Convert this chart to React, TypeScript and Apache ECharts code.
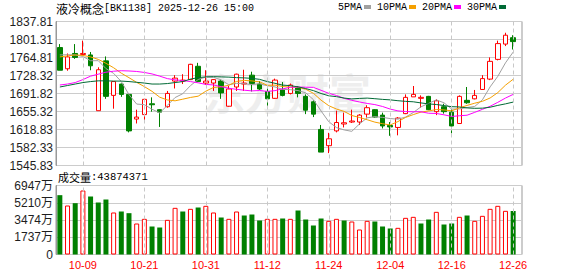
import React, { useEffect, useRef } from 'react';
import * as echarts from 'echarts';

const titleName = '液冷概念';
const titleCode = '[BK1138]';
const titleTime = '2025-12-26 15:00';
const volTitle = '成交量';
const lastVolume = 43874371;

const dates = [
  '09-26', '09-29', '09-30', '10-09', '10-10', '10-13', '10-14', '10-15', '10-16', '10-17',
  '10-20', '10-21', '10-22', '10-23', '10-24', '10-27', '10-28', '10-29', '10-30', '10-31',
  '11-03', '11-04', '11-05', '11-06', '11-07', '11-10', '11-11', '11-12', '11-13', '11-14',
  '11-17', '11-18', '11-19', '11-20', '11-21', '11-24', '11-25', '11-26', '11-27', '11-28',
  '12-01', '12-02', '12-03', '12-04', '12-05', '12-08', '12-09', '12-10', '12-11', '12-12',
  '12-15', '12-16', '12-17', '12-18', '12-19', '12-22', '12-23', '12-24', '12-25', '12-26',
];

const opens = [
  1785, 1742, 1773, 1771, 1770, 1657, 1758, 1688, 1711, 1690,
  1640, 1649, 1671, 1659, 1665, 1717, 1717, 1720, 1747, 1713,
  1713, 1717, 1666, 1705, 1711, 1729, 1711, 1696, 1682, 1699,
  1692, 1703, 1686, 1675, 1619, 1586, 1616, 1630, 1634, 1634,
  1650, 1659, 1648, 1627, 1623, 1651, 1685, 1682, 1686, 1655,
  1665, 1654, 1631, 1678, 1681, 1700, 1721, 1761, 1792, 1805,
];
const closes = [
  1739, 1766, 1765, 1773, 1748, 1740, 1686, 1716, 1690, 1616,
  1644, 1680, 1669, 1654, 1692, 1723, 1719, 1751, 1716, 1717,
  1720, 1693, 1701, 1731, 1713, 1712, 1701, 1681, 1719, 1688,
  1709, 1692, 1658, 1650, 1573, 1600, 1633, 1632.5, 1636, 1648,
  1663, 1644, 1626, 1624, 1642, 1684, 1690, 1684, 1659, 1677,
  1655, 1626, 1686, 1673, 1688, 1722, 1757, 1793, 1810, 1797,
];
const lows = [
  1739, 1738, 1762, 1769, 1739, 1657, 1681, 1661, 1685, 1613,
  1631, 1638, 1655, 1624, 1663, 1702, 1711, 1719, 1715, 1709,
  1697, 1681, 1665, 1697, 1697, 1696, 1699, 1665, 1681, 1686,
  1690, 1684, 1650, 1644, 1573, 1571, 1613, 1623, 1632, 1628,
  1643, 1643, 1621, 1606, 1607, 1650, 1685, 1663, 1658, 1648,
  1651, 1611, 1631, 1671, 1680, 1699, 1719, 1759, 1788, 1781,
];
const highs = [
  1792, 1773, 1792, 1799, 1776, 1745, 1767, 1716, 1712, 1691,
  1659, 1681, 1684, 1660, 1697, 1729, 1731, 1752, 1754, 1739,
  1721, 1720, 1707, 1732, 1740, 1736, 1717, 1702, 1722, 1715,
  1712, 1707, 1690, 1678, 1628, 1612, 1657, 1653, 1659, 1650,
  1668, 1660, 1653, 1634, 1644, 1690, 1707, 1688, 1687, 1680,
  1671, 1663, 1688, 1705, 1699, 1729, 1765, 1799, 1815, 1810,
];

const ma5 = [
  1770, 1770.5, 1770, 1767, 1758.2, 1758.4, 1742.4, 1732.6, 1716.0, 1689.6,
  1670.4, 1669.2, 1659.8, 1652.6, 1667.8, 1683.6, 1691.4, 1707.8, 1720.2, 1725.2,
  1724.6, 1719.4, 1709.4, 1712.4, 1711.6, 1710.0, 1711.6, 1707.6, 1705.2, 1700.2,
  1699.6, 1697.8, 1693.2, 1679.4, 1656.4, 1634.6, 1622.8, 1618.0, 1615.1, 1630.1,
  1642.5, 1644.9, 1643.4, 1641.0, 1639.8, 1644.0, 1653.2, 1664.8, 1671.8, 1678.8,
  1673.0, 1660.2, 1660.6, 1663.4, 1665.6, 1679.0, 1705.2, 1726.6, 1754.0, 1775.8,
];
const ma10 = [
  1766, 1768, 1770, 1769, 1766, 1761, 1753, 1744, 1733, 1723.9,
  1714.4, 1705.8, 1696.2, 1684.3, 1678.7, 1677.0, 1680.3, 1683.8, 1686.4, 1696.5,
  1704.1, 1705.4, 1708.6, 1716.3, 1718.4, 1717.3, 1715.5, 1708.5, 1708.8, 1705.9,
  1704.8, 1704.7, 1700.4, 1692.3, 1678.3, 1667.1, 1660.3, 1655.5, 1647.2, 1643.2,
  1638.6, 1633.8, 1630.6, 1628.0, 1634.9, 1643.3, 1649.0, 1654.1, 1656.4, 1659.3,
  1658.5, 1656.7, 1662.7, 1667.6, 1672.2, 1676.0, 1682.7, 1693.6, 1708.7, 1720.7,
];
const ma20 = [
  1709, 1711, 1714, 1720, 1727, 1731, 1735, 1737, 1738, 1737.5,
  1736.5, 1734.5, 1731.5, 1727, 1722, 1719.5, 1718, 1716, 1713.5, 1710.2,
  1709.2, 1705.6, 1702.4, 1700.3, 1698.5, 1697.1, 1697.9, 1696.1, 1697.6, 1701.2,
  1704.4, 1705.0, 1704.5, 1704.3, 1698.3, 1692.2, 1687.8, 1682.0, 1678.0, 1674.6,
  1671.7, 1669.3, 1665.5, 1660.2, 1656.6, 1655.2, 1654.7, 1654.8, 1651.8, 1651.3,
  1648.6, 1645.3, 1646.7, 1647.8, 1653.6, 1659.7, 1665.9, 1673.9, 1682.6, 1690.0,
];
const ma30 = [
  1705, 1708, 1711, 1714, 1716, 1717.5, 1717.5, 1717, 1717, 1716,
  1714.5, 1713, 1711, 1711, 1712, 1714, 1716, 1721, 1724, 1725.5,
  1726, 1725.5, 1725, 1724, 1723.5, 1722.5, 1720.5, 1716, 1712.5, 1708.8,
  1707.8, 1705.3, 1701.8, 1697.7, 1691.8, 1687.2, 1685.4, 1682.6, 1680.8, 1681.9,
  1682.5, 1681.3, 1679.9, 1678.9, 1677.2, 1675.9, 1675.0, 1672.7, 1670.7, 1669.5,
  1667.3, 1665.1, 1664.6, 1662.6, 1661.8, 1662.1, 1664.0, 1667.7, 1670.8, 1674.4,
];

// volume in units of 万 (10,000)
const volumes = [
  5974, 4933, 5168, 6444, 5839, 5235, 5537, 4229, 4329, 4161,
  3121, 3591, 2819, 2718, 3490, 4698, 4329, 4598, 4732, 4900,
  4229, 3725, 3591, 4329, 3926, 4027, 3423, 3591, 3591, 3624,
  3591, 4430, 3524, 2920, 3624, 3390, 3591, 3423, 3322, 2517,
  3390, 3322, 2819, 2618, 2685, 3692, 3792, 3121, 3524, 4296,
  3020, 3121, 3792, 3926, 3390, 3893, 4598, 4900, 4396, 4387.4371,
];
// 1 = rising day (red hollow bar), -1 = falling day (green bar)
const volDir = [
  -1, 1, -1, 1, -1, -1, -1, 1, -1, -1,
  1, 1, -1, -1, 1, 1, -1, 1, -1, 1,
  1, -1, 1, 1, -1, -1, -1, 1, 1, -1,
  1, -1, -1, -1, -1, 1, 1, -1, 1, 1,
  1, -1, -1, -1, 1, 1, 1, -1, -1, 1,
  -1, -1, 1, -1, 1, 1, 1, 1, 1, -1,
];

const priceMin = 1545.83;
const priceMax = 1837.81;
const priceTicks = ['1545.83', '1582.33', '1618.83', '1655.32', '1691.82', '1728.32', '1764.81', '1801.31', '1837.81'];
const volMax = 6947;
const volTicks = ['0', '1737万', '3474万', '5210万', '6947万'];
const xTicks = ['10-09', '10-21', '10-31', '11-12', '11-24', '12-04', '12-16', '12-26'];

const maNames = ['5PMA', '10PMA', '20PMA', '30PMA'];
const maColors = ['#a0a0a0', '#f5a000', '#ff00ff', '#006a35'];
const maData = [ma5, ma10, ma20, ma30];

const UP = '#ff0000';
const DOWN = '#008000';
const MONO = 'Liberation Mono, DejaVu Sans Mono';

export default function App() {
  const ref = useRef<HTMLDivElement>(null);
  useEffect(() => {
    if (!ref.current) return;
    const chart = echarts.init(ref.current, undefined, { renderer: 'svg' });

    const frameLeft = 56;
    const frameRight = 56;
    const dataWidth = 461;
    const mainTop = 21.5;
    const mainHeight = 144;
    const volTop = 185.5;
    const volHeight = 69;

    const vLines = {
      symbol: ['none', 'none'],
      silent: true,
      label: { show: false },
      lineStyle: { color: '#c8c8c8', type: [4, 3], width: 1 },
      data: xTicks.map((d) => ({ xAxis: d })),
    };

    const labelFont = { fontFamily: 'Liberation Sans, Noto Sans CJK SC', fontSize: 12, color: '#1e1e1e' };

    const option: any = {
      animation: false,
      backgroundColor: '#ffffff',
      title: [
        {
          left: 56,
          top: 1,
          padding: 0,
          text: `{a|${titleName}}{b|${titleCode} ${titleTime}}`,
          textStyle: {
            rich: {
              a: { fontFamily: 'Noto Sans CJK SC', fontSize: 12, fontWeight: 'normal', color: '#000', lineHeight: 15 },
              b: { fontFamily: MONO, fontSize: 10, fontWeight: 'normal', color: '#000', lineHeight: 15 },
            },
          },
        },
        {
          left: 58,
          top: 169,
          padding: 0,
          text: `{a|${volTitle}}{b|:${lastVolume}}`,
          textStyle: {
            rich: {
              a: { fontFamily: 'Noto Sans CJK SC', fontSize: 11, fontWeight: 'normal', color: '#000', lineHeight: 15 },
              b: { fontFamily: MONO, fontSize: 10.5, fontWeight: 'normal', color: '#000', lineHeight: 15 },
            },
          },
        },
      ],
      legend: {
        left: 338,
        top: 2,
        padding: 0,
        icon: 'rect',
        itemWidth: 7,
        itemHeight: 4,
        itemGap: 6,
        align: 'right',
        selectedMode: false,
        textStyle: { fontFamily: MONO, fontSize: 10, color: '#000', padding: [0, -3, 0, 0] },
        data: maNames,
      },
      graphic: [
        {
          type: 'text',
          left: 203,
          top: 70,
          z: -1,
          silent: true,
          style: {
            text: '东方财富',
            fontSize: 42,
            fontWeight: 'bold',
            fontFamily: 'Noto Sans CJK SC',
            fill: '#eeeeee',
          },
        },
      ],
      grid: [
        { left: frameLeft, right: frameRight, top: mainTop, height: mainHeight, show: true, borderColor: '#999', borderWidth: 1, backgroundColor: 'transparent' },
        { left: frameLeft, width: dataWidth, top: mainTop, height: mainHeight },
        { left: frameLeft, right: frameRight, top: volTop, height: volHeight, show: true, borderColor: '#999', borderWidth: 1, backgroundColor: 'transparent' },
        { left: frameLeft, width: dataWidth, top: volTop, height: volHeight },
      ],
      xAxis: [
        { gridIndex: 0, type: 'value', min: 0, max: 1, show: false },
        { gridIndex: 1, type: 'category', data: dates, boundaryGap: true, show: false },
        { gridIndex: 2, type: 'value', min: 0, max: 1, show: false },
        {
          gridIndex: 3,
          type: 'category',
          data: dates,
          boundaryGap: true,
          axisLine: { show: false },
          axisTick: { show: false },
          splitLine: { show: false },
          axisLabel: {
            interval: (_i: number, v: string) => xTicks.includes(v),
            color: '#ff0000',
            fontFamily: 'Liberation Sans',
            fontSize: 11,
            margin: 5,
          },
        },
      ],
      yAxis: [
        {
          gridIndex: 0,
          type: 'value',
          min: 0,
          max: priceTicks.length - 1,
          interval: 1,
          axisLine: { show: true, lineStyle: { color: '#999', width: 1 } },
          axisTick: { show: false },
          splitLine: { show: true, lineStyle: { color: '#cccccc', width: 1 } },
          axisLabel: { ...labelFont, margin: 3, formatter: (v: number) => priceTicks[Math.round(v)] },
        },
        { gridIndex: 1, type: 'value', min: priceMin, max: priceMax, show: false, splitLine: { show: false } },
        {
          gridIndex: 2,
          type: 'value',
          min: 0,
          max: volTicks.length - 1,
          interval: 1,
          axisLine: { show: true, lineStyle: { color: '#999', width: 1 } },
          axisTick: { show: false },
          splitLine: { show: true, lineStyle: { color: '#cccccc', width: 1 } },
          axisLabel: { ...labelFont, margin: 3, formatter: (v: number) => volTicks[Math.round(v)] },
        },
        { gridIndex: 3, type: 'value', min: 0, max: volMax, show: false, splitLine: { show: false } },
      ],
      series: [
        {
          type: 'candlestick',
          xAxisIndex: 1,
          yAxisIndex: 1,
          barWidth: 5,
          data: dates.map((_, i) => [opens[i], closes[i], lows[i], highs[i]]),
          itemStyle: { color: '#ffffff', color0: DOWN, borderColor: UP, borderColor0: DOWN, borderWidth: 1 },
          markLine: vLines,
          z: 3,
        },
        ...maNames.map((name, k) => ({
          type: 'line',
          name,
          xAxisIndex: 1,
          yAxisIndex: 1,
          data: maData[k],
          symbol: 'none',
          showSymbol: false,
          color: maColors[k],
          lineStyle: { color: maColors[k], width: 1 },
          z: 4,
        })),
        {
          type: 'bar',
          xAxisIndex: 3,
          yAxisIndex: 3,
          barWidth: 5,
          data: volumes.map((v, i) => ({
            value: v,
            itemStyle: volDir[i] > 0 ? { color: '#ffffff', borderColor: UP, borderWidth: 1 } : { color: DOWN, borderColor: DOWN, borderWidth: 0 },
          })),
          markLine: vLines,
          z: 3,
        },
      ],
    };

    chart.setOption(option);
    return () => chart.dispose();
  }, []);

  return <div ref={ref} style={{ position: 'fixed', left: 0, top: 0, width: 578, height: 276 }} />;
}
